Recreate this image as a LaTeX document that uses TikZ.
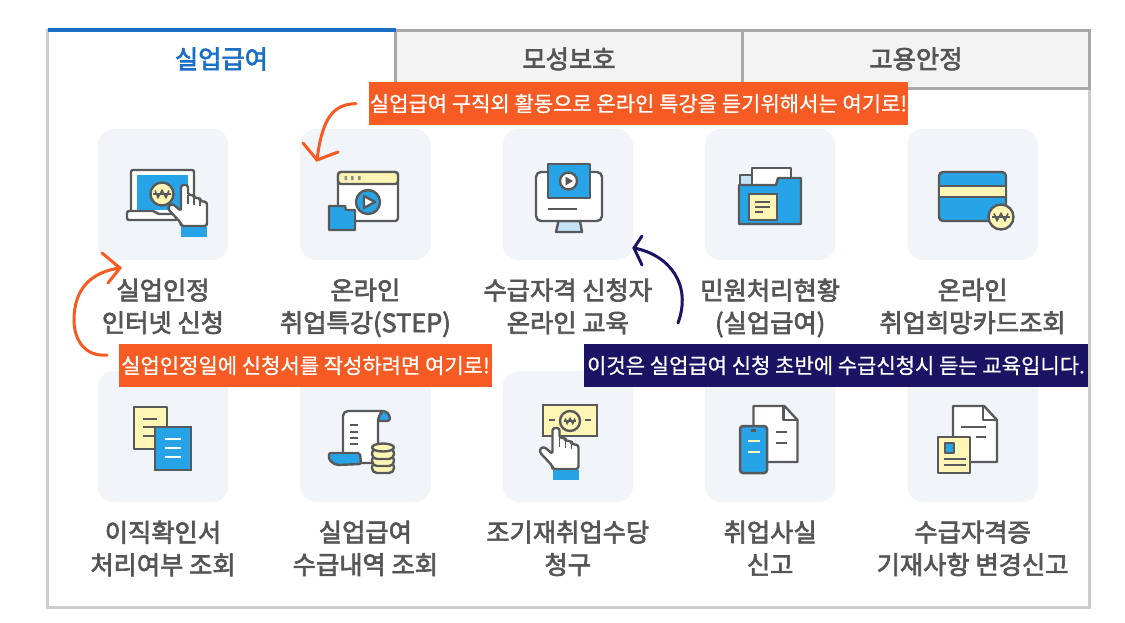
\documentclass[tikz,border=0pt]{standalone}
\usepackage{fontspec}
\usepackage{xcolor}
\usepackage{tikz}
\usetikzlibrary{positioning}
\setmainfont[FakeBold=0.8]{Noto Sans CJK KR}
\newfontfamily\labelfont[FakeBold=2.6]{Noto Sans CJK KR}
\definecolor{CardBack}{RGB}{241, 244, 249}
\definecolor{FrameGray}{RGB}{204, 204, 204}
\definecolor{TabGray}{RGB}{168, 168, 168}
\definecolor{TabFill}{RGB}{243, 243, 243}
\definecolor{TabBlue}{RGB}{26, 110, 198}
\definecolor{LabelGray}{RGB}{85, 85, 85}
\definecolor{NoteOrange}{RGB}{245, 91, 35}
\definecolor{NoteNavy}{RGB}{27, 20, 100}
\definecolor{IconDark}{RGB}{88, 89, 91}
\definecolor{IconBlue}{RGB}{39, 164, 232}
\definecolor{IconYellow}{RGB}{255, 245, 180}
\definecolor{IconPale}{RGB}{197, 227, 246}

\begin{document}
\begin{tikzpicture}[x=1pt, y=-1pt]
    \tikzset{
        card_box/.style={rectangle, fill=CardBack, minimum width=130.4pt, minimum height=131pt, rounded corners=16pt, outer sep=0pt},
        card_label/.style={align=center, text=LabelGray, inner sep=0pt, font=\labelfont\fontsize{25.3}{32.5}\selectfont},
        tab_box/.style={rectangle, minimum width=347pt, minimum height=58pt, outer sep=0pt, font=\labelfont\fontsize{25.3}{30}\selectfont},
        note_box/.style={rectangle, text=white, minimum height=43pt, inner sep=0pt, outer sep=0pt, font=\fontsize{21}{24}\selectfont},
        hand_line/.style={line width=3pt, line cap=round},
        icon_line/.style={draw=IconDark, line width=2.4pt, line join=round},
        icon_mark/.style={draw=IconDark, line width=1.8pt},
        won_mark/.pic={
            \draw[draw=IconDark, line width=1.6pt] (-7,-3.5) -- (-4,3.5) -- (0,-3.5) -- (4,3.5) -- (7,-3.5);
            \draw[draw=IconDark, line width=1.6pt] (-9,0) -- (9,0);
        },
        hand_mark/.pic={
            \fill[IconBlue] (0,42) rectangle (26,52);
            \draw[icon_line, fill=white, rounded corners=2.5pt] (0,0) -- (7,0) -- (7,10) -- (13,10) -- (13,13) -- (19,13) -- (19,16) -- (26,17) -- (26,41) -- (0,41) -- (0,38) -- (-13,24) -- (-12,20) -- (-8,19) -- (0,26) -- cycle;
            \draw[icon_mark] (7,10) -- (7,19);
            \draw[icon_mark] (13,12) -- (13,20);
            \draw[icon_mark] (19,15) -- (19,21);
        },
        sheet_mark/.pic={
            \draw[icon_line, fill=white] (0,0) -- (31,0) -- (44,14) -- (44,56) -- (0,56) -- cycle;
            \draw[icon_line] (30,0) -- (30,14) -- (44,14);
        }
    }
    \useasboundingbox (0,0) rectangle (1125,622);
    \fill[white] (0,0) rectangle (1125,622);

    % outer frame and tabs
    \draw[FrameGray, line width=3pt] (47,30) rectangle (1089,607);
    \node[tab_box, text=TabBlue, minimum width=348pt] (tab1) at (221.5,59) {실업급여};
    \node[tab_box, draw=TabGray, line width=3pt, fill=TabFill, text=LabelGray, right=0pt of tab1] (tab2) {\raisebox{2pt}{모성보호}};
    \node[tab_box, draw=TabGray, line width=3pt, fill=TabFill, text=LabelGray, right=0pt of tab2] (tab3) {\raisebox{2pt}{고용안정}};
    \draw[TabBlue, line width=4pt] (tab1.north west) ++(0,0) -- (tab1.north east);

    % upper row
    \node[card_box] (c1) at (163,194.5) {};
    \node[card_box, right=72pt of c1] (c2) {};
    \node[card_box, right=72pt of c2] (c3) {};
    \node[card_box, right=72pt of c3] (c4) {};
    \node[card_box, right=72pt of c4] (c5) {};
    \node[card_label, below=18.5pt of c1] (l1) {실업인정\\인터넷 신청};
    \node[card_label, below=18.5pt of c2] (l2) {온라인\\취업특강(STEP)};
    \node[card_label, below=18.5pt of c3] (l3) {수급자격 신청자\\온라인 교육};
    \node[card_label, below=18.5pt of c4] (l4) {민원처리현황\\(실업급여)};
    \node[card_label, below=18.5pt of c5] (l5) {온라인\\취업희망카드조회};

    % lower row
    \node[card_box, below=111pt of c1] (c6) {};
    \node[card_box, right=72pt of c6] (c7) {};
    \node[card_box, right=72pt of c7] (c8) {};
    \node[card_box, right=72pt of c8] (c9) {};
    \node[card_box, right=72pt of c9] (c10) {};
    \node[card_label, below=18.5pt of c6] (l6) {이직확인서\\처리여부 조회};
    \node[card_label, below=18.5pt of c7] (l7) {실업급여\\수급내역 조회};
    \node[card_label, below=18.5pt of c8] (l8) {조기재취업수당\\청구};
    \node[card_label, below=18.5pt of c9] (l9) {취업사실\\신고};
    \node[card_label, below=18.5pt of c10] (l10) {수급자격증\\기재사항 변경신고};

    % laptop
    \draw[icon_line, fill=white, rounded corners=2pt] (131,170) rectangle (194,215);
    \fill[IconBlue] (137,175) rectangle (188,210);
    \draw[icon_line, fill=white, rounded corners=2pt] (127,211) -- (155,211) -- (157,214) -- (177,214) -- (177,220) -- (127,220) -- cycle;
    \draw[icon_line, fill=IconYellow] (162,194) circle (11.5);
    \pic at (162,194) {won_mark};
    \pic at (181,185) {hand_mark};

    % browser window
    \draw[icon_line, fill=white, rounded corners=3pt] (338,172) rectangle (398,221);
    \draw[icon_line, fill=IconYellow, rounded corners=3pt] (338,172) rectangle (398,184);
    \fill[IconDark!70] (344.5,176) rectangle (347,180) (351,176) rectangle (353.5,180) (358,176) rectangle (360.5,180);
    \draw[icon_line, fill=IconBlue] (368,202) circle (12);
    \draw[icon_line, fill=white] (364,196) -- (375,202) -- (364,208) -- cycle;
    \draw[icon_line, fill=IconBlue] (329,206) -- (345,206) -- (346,210) -- (355,210) -- (355,230) -- (329,230) -- cycle;

    % monitor
    \draw[icon_line, fill=IconPale] (558.5,221) -- (580,221) -- (582,232) -- (556,232) -- cycle;
    \draw[icon_line, fill=white, rounded corners=5pt] (536,172) rectangle (602,221);
    \draw[icon_line, fill=IconBlue] (548,164) rectangle (590,198);
    \draw[icon_line, fill=white] (568.5,181) circle (8.5);
    \fill[IconDark] (565.5,176.5) -- (573,181) -- (565.5,185.5) -- cycle;
    \draw[icon_mark] (548,209) -- (577,209);

    % folder
    \draw[icon_line, fill=IconPale] (740,175) rectangle (753,186);
    \draw[icon_line, fill=white] (752,168) rectangle (791,186);
    \draw[icon_line, fill=IconBlue] (739,185) -- (776,185) -- (778,178) -- (801,178) -- (801,224) -- (739,224) -- cycle;
    \draw[draw=IconDark, line width=2.5pt, fill=IconYellow] (749,194) rectangle (777,220);
    \draw[icon_mark] (755,202) -- (770,202);
    \draw[icon_mark] (755,207) -- (770,207);
    \draw[icon_mark] (755,212) -- (763,212);

    % payment card
    \draw[icon_line, fill=IconBlue, rounded corners=4pt] (939,172) rectangle (1006,221);
    \draw[icon_line, fill=IconYellow] (939,186) rectangle (1006,197);
    \draw[icon_line, fill=IconYellow] (1001,217) circle (12.5);
    \pic at (1001,217) {won_mark};

    % two documents
    \draw[icon_line, fill=IconYellow] (134,407) rectangle (167,449);
    \draw[icon_mark] (143,419) -- (157,419);
    \draw[icon_mark] (143,427) -- (157,427);
    \draw[icon_mark] (143,436) -- (157,436);
    \draw[draw=IconDark, line width=2.5pt, fill=IconBlue] (155,427) rectangle (191,470);
    \draw[white, line width=1.6pt] (165,439) -- (181,439);
    \draw[white, line width=1.6pt] (165,448) -- (181,448);
    \draw[white, line width=1.6pt] (165,457) -- (181,457);

    % scroll and coins
    \draw[icon_line, fill=IconBlue, rounded corners=3pt] (377,421) -- (377,411) -- (386,411) -- (390,416) -- (390,421) -- cycle;
    \draw[icon_line, fill=white, rounded corners=5pt] (343,458) -- (343,411) -- (384,411) -- (378,416) -- (378,463) -- (358,463) -- cycle;
    \draw[icon_line, fill=IconBlue, rounded corners=2pt] (329,453) -- (360,453) -- (361,464) -- (336,465) -- (329,460) -- cycle;
    \draw[icon_mark] (350,425) -- (358,425);
    \draw[icon_mark] (350,432) -- (358,432);
    \draw[icon_mark] (350,438) -- (358,438);
    \draw[icon_mark] (350,444) -- (358,444);
    \draw[icon_line, fill=IconYellow, rounded corners=5pt] (372,462) rectangle (394,473);
    \draw[icon_line, fill=IconYellow, rounded corners=5pt] (372,455) rectangle (394,466);
    \draw[icon_line, fill=IconYellow, rounded corners=5pt] (372,448) rectangle (394,459);
    \draw[icon_line, fill=IconYellow] (383,447.5) ellipse (11 and 4);

    % bank note
    \draw[draw=IconDark, line width=2.5pt, fill=IconYellow] (543,405) rectangle (597,436);
    \draw[icon_line, fill=IconYellow] (570,421) circle (10);
    \pic[scale=0.7] at (570,421) {won_mark};
    \draw[icon_mark] (549,420) -- (555,420);
    \draw[icon_mark] (585,420) -- (591,420);
    \pic at (552.5,428) {hand_mark};

    % phone and sheet
    \pic at (753.5,406) {sheet_mark};
    \draw[icon_mark] (776,432) -- (787,432);
    \draw[icon_mark] (776,443) -- (787,443);
    \draw[draw=IconDark, line width=2.5pt, fill=IconBlue, rounded corners=3pt] (740,426) rectangle (767,473);
    \fill[IconDark] (751,429) rectangle (756,432);
    \draw[IconYellow, line width=1.6pt] (748,441) -- (760,441);
    \draw[IconYellow, line width=1.6pt] (748,452) -- (760,452);

    % sheet and id card
    \pic at (953,406) {sheet_mark};
    \draw[icon_mark] (961,427) -- (986,427);
    \draw[icon_mark] (976,437) -- (986,437);
    \draw[icon_line, fill=IconYellow] (938,437) rectangle (970,473);
    \draw[icon_line, fill=IconBlue] (945,443) rectangle (954,453);
    \draw[icon_mark] (944,459) -- (966,459);
    \draw[icon_mark] (944,465) -- (966,465);

    % notes and their arrows
    \node[note_box, fill=NoteOrange, minimum width=539pt] (note1) at (638.5,103.5) {실업급여 구직외 활동으로 온라인 특강을 듣기위해서는 여기로!};
    \node[note_box, fill=NoteOrange, minimum width=373pt] (note2) at (305.5,365.5) {실업인정일에 신청서를 작성하려면 여기로!};
    \node[note_box, fill=NoteNavy, minimum width=504pt] (note3) at (836,365.5) {이것은 실업급여 신청 초반에 수급신청시 듣는 교육입니다.};

    \coordinate (tip1) at (317,160);
    \coordinate (from2) at (107,355);
    \coordinate (tip2) at (120,268);
    \coordinate (from3) at (678,323);
    \coordinate (tip3) at (634,248);

    \draw[NoteOrange, hand_line, shorten <=13pt] (note1.west) .. controls (332,104) and (322,120) .. (tip1);
    \draw[NoteOrange, hand_line] (tip1) ++(-14,-17) -- (tip1) -- ++(21,-8);
    \draw[NoteOrange, hand_line] (from2) .. controls (85,357) and (74,340) .. (74,320) .. controls (74,290) and (90,272) .. (tip2);
    \draw[NoteOrange, hand_line] (tip2) ++(-18,-15) -- (tip2) -- ++(-12,15);
    \draw[NoteNavy, hand_line] (from3) .. controls (692,285) and (670,255) .. (tip3);
    \draw[NoteNavy, hand_line] (tip3) ++(8,-12) -- (tip3) -- ++(8,17);

\end{tikzpicture}
\end{document}
